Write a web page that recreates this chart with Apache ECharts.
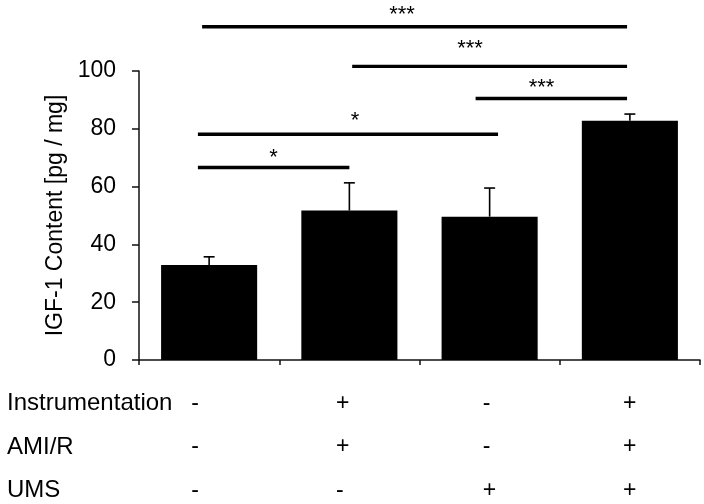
<!DOCTYPE html>
<html>
<head>
<meta charset="utf-8">
<script src="https://cdn.jsdelivr.net/npm/echarts@6/dist/echarts.min.js"></script>
<style>
  html, body { margin: 0; padding: 0; background: #fff; }
  #chart { width: 704px; height: 504px; }
</style>
</head>
<body>
<div id="chart"></div>
<script>
// groups (treatment combinations)
const categories = ['G1', 'G2', 'G3', 'G4']
const meanValues = [32.9, 51.7, 49.6, 82.8]
const errorTops = [35.7, 61.3, 59.5, 85.1]
const yTicks = [0, 20, 40, 60, 80, 100]

// treatment table under the axis
const rowNames = ['Instrumentation', 'AMI/R', 'UMS']
const instrumentation = ['-', '+', '-', '+']
const amiR = ['-', '+', '-', '+']
const ums = ['-', '-', '+', '+']

// significance brackets, in category units (0 = first group)
const sigStart = [-0.05, 1.02, 1.9, -0.08, -0.08]
const sigEnd = [2.98, 2.98, 2.98, 2.06, 1.0]
const sigLevel = [115.3, 101.6, 90.5, 78.1, 66.6]
const sigLabelAt = [1.375, 1.86, 2.37, 1.04, 0.46]
const sigLabelLevel = [121.2, 109.2, 95.7, 84.4, 71.5]
const sigMarks = ['***', '***', '***', '*', '*']

const FONT = '"Liberation Sans", Arial, sans-serif'
// left edge of the +/- signs relative to each group centre (px)
const signShift = [-18, -13.5, -7, -7]
const rowMiddles = [403.5, 447, 490.5]

let chart = echarts.init(document.getElementById('chart'))

let option = {
  animation: false,
  grid: { left: 139, right: 4, top: 71, bottom: 144, outerBoundsMode: 'none' },
  xAxis: {
    type: 'category',
    data: categories,
    axisLine: { lineStyle: { color: '#111', width: 1.5 } },
    axisTick: { show: true, length: 5, lineStyle: { color: '#111', width: 1.5 } },
    axisLabel: { show: false }
  },
  yAxis: {
    type: 'value',
    min: 0,
    max: 100,
    interval: 20,
    name: 'IGF-1 Content [pg / mg]',
    nameLocation: 'middle',
    nameGap: 69,
    nameTextStyle: { color: '#000', fontFamily: FONT, fontSize: 23 },
    splitLine: { show: false },
    axisLine: { show: true, lineStyle: { color: '#111', width: 1.5 } },
    axisTick: { show: true, length: 7, lineStyle: { color: '#111', width: 1.5 } },
    axisLabel: {
      margin: 23,
      color: '#000',
      fontFamily: FONT,
      fontSize: 23,
      formatter: v => (yTicks.indexOf(v) >= 0 ? String(v) : '')
    }
  },
  graphic: rowNames.map((name, i) => ({
    type: 'text',
    x: 7,
    y: rowMiddles[i],
    style: { text: name, fill: '#000', font: '24px ' + FONT, verticalAlign: 'middle' }
  })),
  series: [
    {
      type: 'bar',
      data: meanValues,
      barWidth: '68.5%',
      itemStyle: { color: '#000' }
    },
    {
      type: 'custom',
      data: categories.map((c, i) => [i, meanValues[i], errorTops[i]]),
      z: 3,
      renderItem: (params, api) => {
        let base = api.coord([api.value(0), api.value(1)])
        let top = api.coord([api.value(0), api.value(2)])
        return {
          type: 'group',
          children: [
            {
              type: 'line',
              shape: { x1: base[0], y1: base[1], x2: top[0], y2: top[1] },
              style: { stroke: '#000', lineWidth: 1.6 }
            },
            {
              type: 'line',
              shape: { x1: top[0] - 5.5, y1: top[1], x2: top[0] + 5.5, y2: top[1] },
              style: { stroke: '#000', lineWidth: 1.6 }
            }
          ]
        }
      }
    },
    {
      // +/- table under the x axis
      type: 'custom',
      clip: false,
      data: categories.map((c, i) => [i, 0]),
      renderItem: (params, api) => {
        let i = params.dataIndex
        let p = api.coord([i, 0])
        let signs = [instrumentation[i], amiR[i], ums[i]]
        return {
          type: 'group',
          children: signs.map((s, r) => ({
            type: 'text',
            x: p[0] + signShift[i],
            y: rowMiddles[r],
            style: {
              text: s,
              fill: '#000',
              font: '23px ' + FONT,
              align: 'left',
              verticalAlign: 'middle'
            }
          }))
        }
      }
    },
    {
      type: 'custom',
      clip: false,
      data: sigLevel.map(v => [0, v]),
      renderItem: (params, api) => {
        let i = params.dataIndex
        let p0 = api.coord([0, sigLevel[i]])
        let pl = api.coord([0, sigLabelLevel[i]])
        let band = api.size([1, 0])[0]
        let x1 = p0[0] + sigStart[i] * band
        let x2 = p0[0] + sigEnd[i] * band
        let xl = p0[0] + sigLabelAt[i] * band
        return {
          type: 'group',
          children: [
            {
              type: 'line',
              shape: { x1: x1, y1: p0[1], x2: x2, y2: p0[1] },
              style: { stroke: '#000', lineWidth: 3.4 }
            },
            {
              type: 'text',
              x: xl,
              y: pl[1] + 5,
              style: {
                text: sigMarks[i],
                fill: '#000',
                font: '22px ' + FONT,
                align: 'center',
                verticalAlign: 'middle'
              }
            }
          ]
        }
      }
    }
  ]
}

chart.setOption(option)
</script>
</body>
</html>
